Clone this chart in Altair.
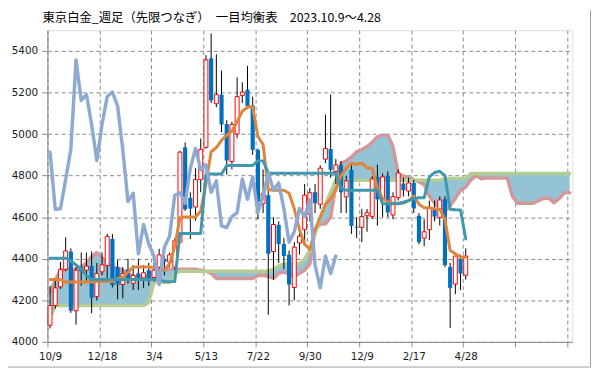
import json
import altair as alt
import pandas as pd

# ---------------- data ----------------
title_text = "東京白金_週足（先限つなぎ）　一目均衡表　2023.10.9～4.28"

tick_positions = [0, 10, 20, 30, 40, 50, 60, 70, 80, 90, 100]
tick_labels = ["10/9", "12/18", "3/4", "5/13", "7/22", "9/30", "12/9", "2/17", "4/28", "", ""]
y_ticks = [4000, 4200, 4400, 4600, 4800, 5000, 5200, 5400]

opens = [4080, 4175, 4265, 4349, 4435, 4150, 4360, 4345, 4365, 4218,
         4337, 4368, 4495, 4360, 4276, 4349, 4282, 4330, 4308, 4345,
         4310, 4360, 4400, 4384, 4360, 4480, 4936, 4693, 4649, 4781,
         4936, 5365, 5146, 5190, 5048, 4868, 5000, 5186, 5214, 5138,
         4924, 4665, 4706, 4435, 4563, 4471, 4419, 4262, 4476, 4540,
         4614, 4721, 4662, 4879, 4928, 4820, 4850, 4698, 4828, 4555,
         4551, 4607, 4603, 4794, 4686, 4800, 4611, 4694, 4762, 4726,
         4765, 4607, 4499, 4540, 4635, 4599, 4686, 4361, 4278, 4400,
         4321]
highs = [4270, 4300, 4385, 4503, 4450, 4360, 4430, 4430, 4435, 4380,
         4430, 4520, 4519, 4395, 4360, 4400, 4370, 4400, 4370, 4380,
         4410, 4448, 4440, 4430, 4500, 4920, 4960, 4720, 4836, 4979,
         5380, 5484, 5384, 5305, 5067, 5060, 5273, 5249, 5328, 5180,
         4930, 4830, 4740, 4600, 4580, 4500, 4440, 4480, 4540, 4760,
         4740, 4760, 4850, 5094, 5191, 4880, 4870, 4800, 4850, 4600,
         4640, 4640, 4797, 4853, 4810, 4820, 4720, 4830, 4790, 4790,
         4780, 4620, 4590, 4680, 4680, 4700, 4700, 4380, 4413, 4420,
         4450]
lows = [4065, 4160, 4255, 4340, 4140, 4083, 4270, 4290, 4138, 4200,
        4320, 4300, 4262, 4205, 4210, 4280, 4250, 4250, 4260, 4270,
        4290, 4340, 4320, 4360, 4345, 4475, 4630, 4495, 4583, 4720,
        4930, 5150, 5130, 5010, 4805, 4830, 4980, 5150, 5120, 4900,
        4590, 4620, 4130, 4300, 4380, 4350, 4175, 4200, 4420, 4480,
        4580, 4620, 4640, 4860, 4790, 4760, 4620, 4620, 4520, 4500,
        4480, 4530, 4590, 4559, 4600, 4600, 4590, 4680, 4700, 4700,
        4620, 4470, 4460, 4490, 4580, 4560, 4360, 4067, 4230, 4250,
        4300]
closes = [4175, 4260, 4349, 4438, 4150, 4345, 4340, 4365, 4213, 4329,
          4371, 4508, 4273, 4275, 4329, 4305, 4320, 4310, 4333, 4305,
          4345, 4419, 4385, 4419, 4487, 4913, 4638, 4641, 4781, 4927,
          5357, 5162, 5190, 5046, 4873, 5046, 5181, 5202, 5135, 4924,
          4675, 4715, 4424, 4565, 4471, 4413, 4276, 4456, 4508, 4706,
          4718, 4667, 4836, 4931, 4828, 4852, 4720, 4775, 4558, 4550,
          4603, 4622, 4784, 4686, 4794, 4623, 4699, 4813, 4730, 4765,
          4642, 4480, 4530, 4642, 4603, 4683, 4369, 4260, 4413, 4329,
          4413]

# 転換線 (conversion line)
tenkan = [4300, 4300, 4300, 4288, 4288, 4288, 4288, 4288, 4288, 4290,
          4290, 4290, 4290, 4305, 4310, 4335, 4360, 4360, 4360, 4360,
          4355, 4345, 4345, 4376, 4460, 4598, 4601, 4601, 4601, 4630,
          4760, 4915, 4935, 4970, 4995, 5014, 5060, 5110, 5130, 5130,
          4990, 4950, 4733, 4730, 4730, 4730, 4715, 4640, 4540, 4470,
          4445, 4540, 4600, 4660, 4690, 4730, 4800, 4836, 4860, 4855,
          4860, 4837, 4835, 4740, 4690, 4675, 4667, 4667, 4667, 4680,
          4702, 4662, 4646, 4646, 4640, 4638, 4590, 4440, 4424, 4408,
          4408]
# 基準線 (base line)
kijun = [4403, 4403, 4403, 4403, 4390, 4370, 4350, 4320, 4300, 4300,
         4300, 4300, 4300, 4300, 4300, 4300, 4300, 4300, 4300, 4300,
         4300, 4300, 4290, 4290, 4290, 4522, 4522, 4522, 4522, 4522,
         4808, 4808, 4808, 4808, 4849, 4849, 4849, 4849, 4849, 4849,
         4871, 4871, 4812, 4812, 4812, 4812, 4812, 4812, 4812, 4812,
         4812, 4812, 4812, 4812, 4812, 4812, 4740, 4730, 4730, 4730,
         4730, 4730, 4730, 4730, 4665, 4665, 4665, 4665, 4672, 4680,
         4690, 4694, 4694, 4794, 4815, 4821, 4800, 4638, 4636, 4635,
         4495]
# 先行スパン1
senkou_a = [4240, 4297, 4344, 4349, 4350, 4350, 4360, 4380, 4410, 4429,
            4405, 4376, 4362, 4355, 4345, 4330, 4315, 4315, 4310, 4320,
            4340, 4345, 4350, 4350, 4350, 4350, 4350, 4350, 4350, 4345,
            4340, 4330, 4305, 4305, 4305, 4305, 4305, 4305, 4305, 4305,
            4320, 4320, 4315, 4305, 4330, 4337, 4325, 4313, 4330, 4345,
            4376, 4540, 4567, 4567, 4600, 4757, 4860, 4870, 4890, 4915,
            4925, 4940, 4960, 4987, 4995, 4995, 4940, 4810, 4797, 4792,
            4780, 4770, 4757, 4700, 4670, 4640, 4630, 4655, 4690, 4730,
            4745, 4780, 4800, 4785, 4788, 4788, 4788, 4788, 4788, 4700,
            4667, 4667, 4667, 4667, 4680, 4690, 4692, 4670, 4690, 4718,
            4718]
# 先行スパン2
senkou_b = [4118, 4175, 4175, 4175, 4175, 4175, 4175, 4175, 4175, 4175,
            4175, 4175, 4175, 4175, 4175, 4175, 4175, 4175, 4175, 4190,
            4287, 4287, 4287, 4287, 4330, 4340, 4340, 4340, 4340, 4340,
            4340, 4340, 4340, 4340, 4340, 4340, 4340, 4340, 4340, 4340,
            4340, 4340, 4340, 4350, 4365, 4375, 4376, 4376, 4376, 4400,
            4440, 4520, 4600, 4660, 4720, 4780, 4778, 4778, 4778, 4778,
            4778, 4778, 4778, 4778, 4778, 4778, 4778, 4778, 4778, 4778,
            4778, 4778, 4778, 4778, 4778, 4778, 4786, 4786, 4786, 4786,
            4786, 4810, 4810, 4810, 4810, 4810, 4810, 4810, 4810, 4810,
            4810, 4810, 4810, 4810, 4810, 4810, 4810, 4810, 4810, 4810,
            4810]
# 遅行スパン (close drawn 25 weeks back)
chikou = [4913, 4638, 4641, 4781, 4927, 5357, 5162, 5190, 5046, 4873,
          5046, 5181, 5202, 5135, 4924, 4675, 4715, 4424, 4565, 4471,
          4413, 4276, 4456, 4508, 4706, 4718, 4667, 4836, 4931, 4828,
          4852, 4720, 4775, 4558, 4550, 4603, 4622, 4784, 4686, 4794,
          4623, 4699, 4813, 4730, 4765, 4642, 4480, 4530, 4642, 4603,
          4683, 4369, 4260, 4413, 4329, 4413]

# ---------------- tables ----------------
candles = pd.DataFrame({
    "idx": list(range(len(opens))),
    "open": opens, "high": highs, "low": lows, "close": closes,
})
candles["up"] = candles["close"] >= candles["open"]

cloud = pd.DataFrame({"idx": list(range(len(senkou_a))), "a": senkou_a, "b": senkou_b})
tk = pd.DataFrame({"idx": list(range(len(tenkan))), "v": tenkan})
kj = pd.DataFrame({"idx": list(range(len(kijun))), "v": kijun})
ck = pd.DataFrame({"idx": list(range(len(chikou))), "v": chikou})

# ---------------- scales / axes ----------------
GRID = "#8a8a8a"
AXIS = "#8a8a8a"
LABEL_FONT = "DejaVu Sans"

x_scale = alt.Scale(domain=[0, 101], nice=False, zero=False)
y_scale = alt.Scale(domain=[4000, 5500], nice=False, zero=False)

x_axis = alt.Axis(
    values=tick_positions,
    labelExpr=json.dumps(tick_labels) + "[round(datum.value / 10)]",
    grid=True, gridDash=[4, 3], gridColor=GRID, gridWidth=1,
    domainColor=AXIS, tickColor=AXIS, tickSize=5, ticks=True,
    labelFont=LABEL_FONT, labelFontSize=10.5, labelColor="#1a1a1a",
    labelPadding=5, labelOffset=2.6, labelOverlap=False, labelFlush=False,
    title=None,
)
y_axis = alt.Axis(
    values=y_ticks, format="d",
    grid=True, gridDash=[4, 3], gridColor=GRID, gridWidth=1,
    domainColor=AXIS, tickColor=AXIS, tickSize=6,
    labelFont=LABEL_FONT, labelFontSize=10.5, labelColor="#1a1a1a",
    labelPadding=4, title=None,
)

X_C = alt.X("xc:Q", scale=x_scale, axis=x_axis)
Y_V = alt.Y("v:Q", scale=y_scale, axis=y_axis)

# cloud fill
fill = alt.Chart(cloud).transform_calculate(xc="datum.idx + 0.5").mark_area(
    color="#93c3d4", opacity=1
).encode(x=X_C, y=alt.Y("a:Q", scale=y_scale, axis=y_axis), y2="b:Q")

line_a = alt.Chart(cloud).transform_calculate(xc="datum.idx + 0.5").mark_line(
    color="#d49798", strokeWidth=3.5, strokeJoin="round", strokeCap="round"
).encode(x=X_C, y=alt.Y("a:Q", scale=y_scale, axis=y_axis))

line_b = alt.Chart(cloud).transform_calculate(xc="datum.idx + 0.5").mark_line(
    color="#b5cd93", strokeWidth=3.5, strokeJoin="round", strokeCap="round"
).encode(x=X_C, y=alt.Y("b:Q", scale=y_scale, axis=y_axis))

wicks = alt.Chart(candles).transform_calculate(xc="datum.idx + 0.5").mark_rule(
    color="#000000", strokeWidth=1
).encode(x=X_C, y=alt.Y("low:Q", scale=y_scale, axis=y_axis), y2="high:Q")

bodies_up = alt.Chart(candles).transform_filter("datum.up").transform_calculate(
    x0="datum.idx + 0.12", x1="datum.idx + 0.88"
).mark_rect(fill="#ffffff", stroke="#ff0000", strokeWidth=1).encode(
    x=alt.X("x0:Q", scale=x_scale, axis=x_axis), x2="x1:Q",
    y=alt.Y("open:Q", scale=y_scale, axis=y_axis), y2="close:Q",
)
bodies_dn = alt.Chart(candles).transform_filter("!datum.up").transform_calculate(
    x0="datum.idx + 0.1", x1="datum.idx + 0.9"
).mark_rect(fill="#0070c0", strokeWidth=0).encode(
    x=alt.X("x0:Q", scale=x_scale, axis=x_axis), x2="x1:Q",
    y=alt.Y("open:Q", scale=y_scale, axis=y_axis), y2="close:Q",
)


def series_line(df, color, width):
    return alt.Chart(df).transform_calculate(xc="datum.idx + 0.5").mark_line(
        color=color, strokeWidth=width, strokeJoin="round", strokeCap="round"
    ).encode(x=X_C, y=Y_V)


tenkan_line = series_line(tk, "#e0843a", 3)
kijun_line = series_line(kj, "#3f98ae", 3)
chikou_line = series_line(ck, "#8eaad3", 3.5)

title_mark = alt.Chart(pd.DataFrame({"t": [title_text]})).mark_text(
    align="left", baseline="alphabetic", font="Noto Sans CJK JP",
    fontSize=12.5, color="#000000"
).encode(x=alt.value(-5), y=alt.value(-8.5), text="t:N")

frame_right = alt.Chart(pd.DataFrame({"t": [0]})).mark_rule(
    color="#a0a0a0", strokeWidth=1
).encode(x=alt.value(550.5), y=alt.value(-20), y2=alt.value(341.5))
frame_bottom = alt.Chart(pd.DataFrame({"t": [0]})).mark_rule(
    color="#a0a0a0", strokeWidth=1
).encode(x=alt.value(-40), x2=alt.value(550.5), y=alt.value(341.5))

chart = alt.layer(
    fill, line_a, line_b, wicks, bodies_up, bodies_dn,
    tenkan_line, kijun_line, chikou_line, title_mark, frame_right, frame_bottom,
).properties(
    width=532, height=316,
    autosize=alt.AutoSizeParams(type="none"),
    padding={"left": 40, "top": 20, "right": 19, "bottom": 26},
).configure_view(
    stroke=AXIS, strokeWidth=1
).configure(background="#ffffff")

chart.save("out.html", embed_options={"renderer": "svg", "actions": False})
